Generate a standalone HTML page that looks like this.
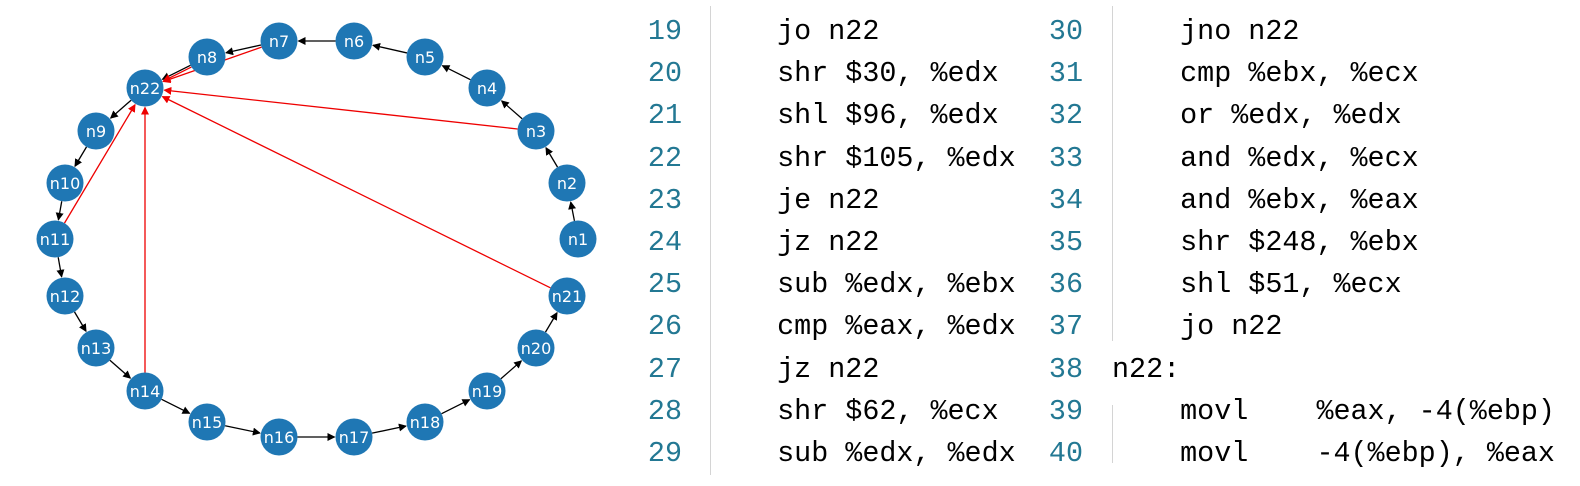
<!DOCTYPE html>
<html><head><meta charset="utf-8">
<style>
html,body{margin:0;padding:0;background:#fff;}
body{width:1580px;height:486px;position:relative;overflow:hidden;}
#graph{position:absolute;left:0;top:0;}
.code{position:absolute;font-family:"Liberation Mono",monospace;font-size:28.4px;line-height:42.2px;white-space:pre;}
.ln{color:#237893;text-align:right;width:40px;}
.txt{color:#000;}
.sep{position:absolute;width:1px;background:#d4d4d4;}
</style></head><body>
<svg id="graph" width="620" height="486" viewBox="0 0 620 486">
<defs>
<marker id="ab" markerWidth="8" markerHeight="8" refX="7" refY="4" orient="auto" markerUnits="userSpaceOnUse"><path d="M0,0 L8,4 L0,8 z" fill="#000"/></marker>
<marker id="ar" markerWidth="8" markerHeight="8" refX="7" refY="4" orient="auto" markerUnits="userSpaceOnUse"><path d="M0,0 L8,4 L0,8 z" fill="#e00"/></marker>
</defs>
<g id="edges"></g><g id="nodes"></g>
</svg>
<script>
const nodeNames=["n1","n2","n3","n4","n5","n6","n7","n8","n22","n9","n10","n11","n12","n13","n14","n15","n16","n17","n18","n19","n20","n21"];
const nodeX=[578,567,536,487,425,354,279,207,145,96,65,55,65,96,145,207,279,354,425,487,536,567];
const nodeY=[239,183,131,88,57,41,41,57,88,131,183,239,296,348,391,422,437,437,422,391,348,296];
const blackEdges=[["n1","n2"],["n2","n3"],["n3","n4"],["n4","n5"],["n5","n6"],["n6","n7"],["n7","n8"],["n8","n22"],["n22","n9"],["n9","n10"],["n10","n11"],["n11","n12"],["n12","n13"],["n13","n14"],["n14","n15"],["n15","n16"],["n16","n17"],["n17","n18"],["n18","n19"],["n19","n20"],["n20","n21"]];
const redEdges=[["n7","n22"],["n8","n22"],["n3","n22"],["n21","n22"],["n11","n22"],["n14","n22"]];
const R=18.5;
const NS="http://www.w3.org/2000/svg";
function pos(n){const i=nodeNames.indexOf(n);return [nodeX[i],nodeY[i]];}
const eg=document.getElementById('edges');
function drawEdge(a,b,color,marker,off){
  let [x1,y1]=pos(a),[x2,y2]=pos(b);
  const dx=x2-x1,dy=y2-y1,L=Math.hypot(dx,dy),ux=dx/L,uy=dy/L;
  const ox=-uy*off,oy=ux*off;
  const l=document.createElementNS(NS,'line');
  l.setAttribute('x1',x1+ux*R+ox);l.setAttribute('y1',y1+uy*R+oy);
  l.setAttribute('x2',x2-ux*(R+1)+ox);l.setAttribute('y2',y2-uy*(R+1)+oy);
  l.setAttribute('stroke',color);l.setAttribute('stroke-width','1.3');
  l.setAttribute('marker-end','url(#'+marker+')');
  
  
  eg.appendChild(l);
}
blackEdges.forEach(e=>drawEdge(e[0],e[1],'#000','ab',0));
redEdges.forEach(e=>drawEdge(e[0],e[1],'#e00','ar',e[0]==="n8"?-2:0));
const ng=document.getElementById('nodes');
nodeNames.forEach((n,i)=>{
  const g=document.createElementNS(NS,'g');
  
  
  const c=document.createElementNS(NS,'circle');
  c.setAttribute('cx',nodeX[i]);c.setAttribute('cy',nodeY[i]);c.setAttribute('r',R);c.setAttribute('fill','#1f77b4');
  const t=document.createElementNS(NS,'text');
  t.setAttribute('x',nodeX[i]);t.setAttribute('y',nodeY[i]+6);t.setAttribute('text-anchor','middle');
  t.setAttribute('fill','#fff');t.setAttribute('font-family','DejaVu Sans, sans-serif');t.setAttribute('font-size','16');
  t.textContent=n;
  g.appendChild(c);g.appendChild(t);ng.appendChild(g);
});
</script>

<div class="sep" style="left:710px;top:6px;height:469px;"></div>
<div class="sep" style="left:1112px;top:6px;height:335px;"></div>
<div class="sep" style="left:1112px;top:405px;height:58px;"></div>

<div class="code ln" style="left:642px;top:11px;">19
20
21
22
23
24
25
26
27
28
29</div>
<div class="code txt" style="left:709px;top:11px;">    jo n22
    shr $30, %edx
    shl $96, %edx
    shr $105, %edx
    je n22
    jz n22
    sub %edx, %ebx
    cmp %eax, %edx
    jz n22
    shr $62, %ecx
    sub %edx, %edx</div>

<div class="code ln" style="left:1043px;top:11px;">30
31
32
33
34
35
36
37
38
39
40</div>
<div class="code txt" style="left:1112px;top:11px;">    jno n22
    cmp %ebx, %ecx
    or %edx, %edx
    and %edx, %ecx
    and %ebx, %eax
    shr $248, %ebx
    shl $51, %ecx
    jo n22
n22:
    movl    %eax, -4(%ebp)
    movl    -4(%ebp), %eax</div>
</body></html>
